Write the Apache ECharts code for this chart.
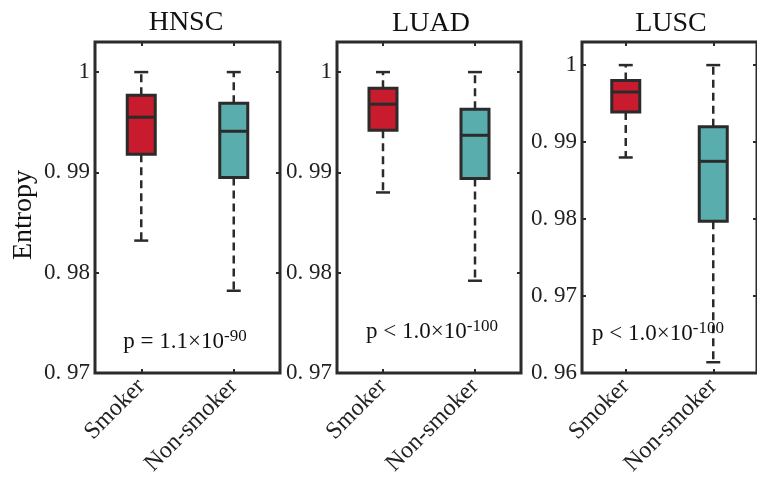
<!DOCTYPE html>
<html>
<head>
<meta charset="utf-8">
<script src="https://cdn.jsdelivr.net/npm/echarts@6/dist/echarts.min.js"></script>
<style>html,body{margin:0;padding:0;background:#fff}#c{width:757px;height:480px}</style>
</head>
<body>
<div id="c"></div>
<script>
// ---- data ----
const categories = ['Smoker', 'Non-smoker'];
const panelTitles = ['HNSC', 'LUAD', 'LUSC'];
// [lowerWhisker, Q1, median, Q3, upperWhisker]
const hnscSmoker    = [0.9832, 0.9918, 0.9955, 0.9977, 1.0000];
const hnscNonSmoker = [0.9782, 0.9895, 0.9941, 0.9969, 1.0000];
const luadSmoker    = [0.9880, 0.9942, 0.9968, 0.9984, 1.0000];
const luadNonSmoker = [0.9792, 0.9894, 0.9937, 0.9963, 1.0000];
const luscSmoker    = [0.9880, 0.9939, 0.9965, 0.9980, 1.0000];
const luscNonSmoker = [0.9614, 0.9797, 0.9875, 0.9920, 1.0000];
const yTicksHNSC = ['0. 97', '0. 98', '0. 99', '1'];
const yTicksLUAD = ['0. 97', '0. 98', '0. 99', '1'];
const yTicksLUSC = ['0. 96', '0. 97', '0. 98', '0. 99', '1'];
const yMins = [0.97, 0.97, 0.96];
const yMax = 1.003;
const pMain = ['p = 1.1×10', 'p < 1.0×10', 'p < 1.0×10'];
const pExp  = ['-90', '-100', '-100'];

const panelData = [[hnscSmoker, hnscNonSmoker], [luadSmoker, luadNonSmoker], [luscSmoker, luscNonSmoker]];
const panelTicks = [yTicksHNSC, yTicksLUAD, yTicksLUSC];

// ---- layout ----
const grids = [
  {left: 95, top: 42, width: 185, height: 331},
  {left: 337, top: 42, width: 184, height: 331},
  {left: 582, top: 42, width: 185, height: 331}
];
const boxColors = ['#C81B2D', '#5AADAD'];
const ink = '#2b2b2b';
const FONT = '"Liberation Serif", "DejaVu Serif", serif';

function renderBox(params, api) {
  const xi = api.value(0);
  const lo = api.coord([xi, api.value(1)]);
  const q1 = api.coord([xi, api.value(2)]);
  const md = api.coord([xi, api.value(3)]);
  const q3 = api.coord([xi, api.value(4)]);
  const hi = api.coord([xi, api.value(5)]);
  const cx = lo[0];
  const bw = 28, cw = 14;
  const dash = {stroke: ink, lineWidth: 2.5, lineDash: [8, 5]};
  const solid = {stroke: ink, lineWidth: 2.5};
  return {
    type: 'group',
    children: [
      {type: 'line', shape: {x1: cx, y1: q3[1], x2: cx, y2: hi[1]}, style: dash},
      {type: 'line', shape: {x1: cx, y1: q1[1], x2: cx, y2: lo[1]}, style: dash},
      {type: 'line', shape: {x1: cx - cw / 2, y1: hi[1], x2: cx + cw / 2, y2: hi[1]}, style: solid},
      {type: 'line', shape: {x1: cx - cw / 2, y1: lo[1], x2: cx + cw / 2, y2: lo[1]}, style: solid},
      {type: 'rect', shape: {x: cx - bw / 2, y: q3[1], width: bw, height: q1[1] - q3[1]},
        style: {fill: boxColors[xi], stroke: ink, lineWidth: 3}},
      {type: 'line', shape: {x1: cx - bw / 2, y1: md[1], x2: cx + bw / 2, y2: md[1]}, style: {stroke: ink, lineWidth: 3}}
    ]
  };
}

const option = {
  animation: false,
  backgroundColor: '#fff',
  grid: grids.map(g => Object.assign({show: true, borderColor: ink, borderWidth: 3, backgroundColor: 'transparent'}, g)),
  xAxis: [],
  yAxis: [],
  series: [],
  graphic: []
};

for (let g = 0; g < 3; g++) {
  const ticks = panelTicks[g];
  const mn = yMins[g];
  option.xAxis.push({
    type: 'category', gridIndex: g, data: categories, position: 'bottom',
    axisLine: {show: false},
    axisTick: {show: true, inside: true, alignWithLabel: true, length: 4, lineStyle: {color: ink, width: 2}},
    axisLabel: {rotate: 45, margin: 10, fontFamily: FONT, fontSize: 24, color: '#222'},
    splitLine: {show: false}
  });
  option.xAxis.push({
    type: 'category', gridIndex: g, data: categories, position: 'top',
    axisLine: {show: false},
    axisTick: {show: true, inside: true, alignWithLabel: true, length: 4, lineStyle: {color: ink, width: 2}},
    axisLabel: {show: false}, splitLine: {show: false}
  });
  option.yAxis.push({
    type: 'value', gridIndex: g, min: mn, max: yMax, interval: 0.01, position: 'left',
    axisLine: {show: false},
    axisTick: {show: true, inside: true, length: 4, lineStyle: {color: ink, width: 2}},
    axisLabel: {
      showMaxLabel: false, margin: 5, fontFamily: FONT, fontSize: 23, color: '#222',
      formatter: (v) => {
        const k = Math.round((v - mn) / 0.01);
        if (Math.abs(v - (mn + k * 0.01)) > 1e-6) return '';
        return ticks[k] !== undefined ? ticks[k] : '';
      }
    },
    splitLine: {show: false}
  });
  option.yAxis.push({
    type: 'value', gridIndex: g, min: mn, max: yMax, interval: 0.01, position: 'right',
    axisLine: {show: false},
    axisTick: {show: true, inside: true, length: 4, lineStyle: {color: ink, width: 2}},
    axisLabel: {show: false}, splitLine: {show: false}
  });
  option.series.push({
    type: 'custom', xAxisIndex: 2 * g, yAxisIndex: 2 * g,
    renderItem: renderBox,
    data: panelData[g].map((d, i) => [i].concat(d)),
    z: 2
  });
}

// titles
const titlePos = [[186, 23], [431, 24], [671, 24]];
panelTitles.forEach((t, i) => {
  option.graphic.push({
    type: 'text', x: titlePos[i][0], y: titlePos[i][1], z: 10,
    style: {text: t, fontFamily: FONT, fontSize: 28, fill: '#111', align: 'center', verticalAlign: 'middle'}
  });
});
// p-values
const pPos = [[185, 342], [432, 332], [658, 334]];
for (let i = 0; i < 3; i++) {
  option.graphic.push({
    type: 'text', x: pPos[i][0], y: pPos[i][1], z: 10,
    style: {
      text: '{a|' + pMain[i] + '}{s|' + pExp[i] + '}',
      align: 'center', verticalAlign: 'middle',
      rich: {
        a: {fontFamily: FONT, fontSize: 23, lineHeight: 28, fill: '#111', verticalAlign: 'middle'},
        s: {fontFamily: FONT, fontSize: 17, lineHeight: 17, fill: '#111', verticalAlign: 'top'}
      }
    }
  });
}
// y-axis name
option.graphic.push({
  type: 'text', x: 24, y: 215, rotation: Math.PI / 2, z: 10,
  style: {text: 'Entropy', fontFamily: FONT, fontSize: 28, fill: '#111', align: 'center', verticalAlign: 'middle'}
});

const chart = echarts.init(document.getElementById('c'), null, {renderer: 'canvas'});
chart.setOption(option);
</script>
</body>
</html>
